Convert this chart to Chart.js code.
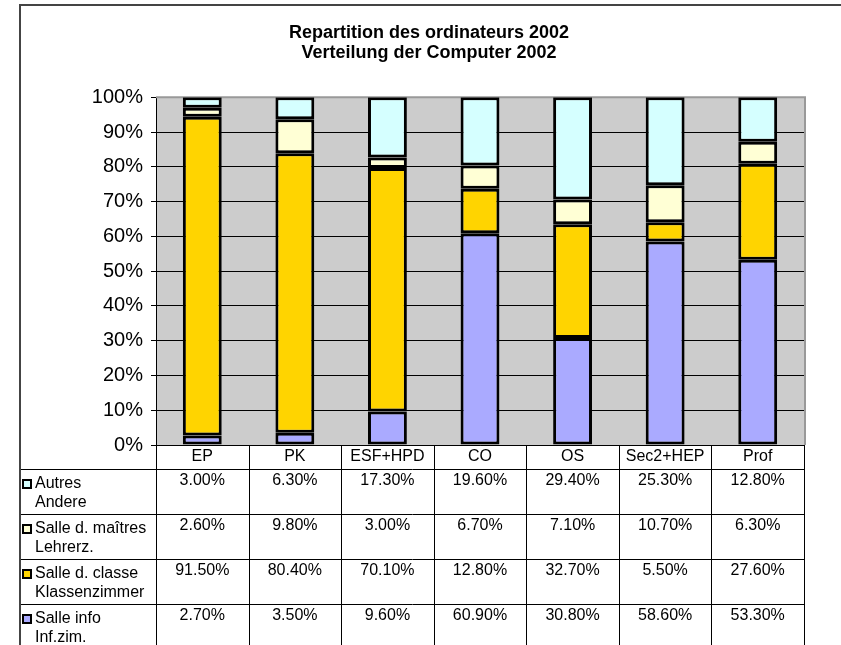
<!DOCTYPE html>
<html>
<head>
<meta charset="utf-8">
<script src="https://cdn.jsdelivr.net/npm/chart.js@4.4.0/dist/chart.umd.min.js"></script>
<style>
  html, body { margin: 0; padding: 0; background: #fff; }
  #wrap { width: 841px; height: 645px; position: relative; }
</style>
</head>
<body>
<div id="wrap"><canvas id="c" width="841" height="645"></canvas></div>
<script>
const categories = ['EP', 'PK', 'ESF+HPD', 'CO', 'OS', 'Sec2+HEP', 'Prof'];
const salleInfo = [2.7, 3.5, 9.6, 60.9, 30.8, 58.6, 53.3];
const salleClasse = [91.5, 80.4, 70.1, 12.8, 32.7, 5.5, 27.6];
const salleMaitres = [2.6, 9.8, 3.0, 6.7, 7.1, 10.7, 6.3];
const autres = [3.0, 6.3, 17.3, 19.6, 29.4, 25.3, 12.8];
const labelInfo = ['Salle info', 'Inf.zim.'];
const labelClasse = ['Salle d. classe', 'Klassenzimmer'];
const labelMaitres = ['Salle d. maîtres', 'Lehrerz.'];
const labelAutres = ['Autres', 'Andere'];
const titleLines = ['Repartition des ordinateurs 2002', 'Verteilung der Computer 2002'];
const yTicks = [0, 10, 20, 30, 40, 50, 60, 70, 80, 90, 100];

const FONT = '"Liberation Sans", Arial, Helvetica, sans-serif';
const seriesRaw = [salleInfo, salleClasse, salleMaitres, autres];
const totals = categories.map((_, i) => seriesRaw.reduce((s, a) => s + a[i], 0));
const pct = a => a.map((v, i) => v / totals[i] * 100);

const colors = ['#AAAAFF', '#FFD400', '#FFFFD5', '#D5FFFF'];
const seriesLabels = [labelInfo, labelClasse, labelMaitres, labelAutres];

const datasets = seriesRaw.map((arr, k) => ({
  label: seriesLabels[k].join(' '),
  data: pct(arr),
  raw: arr,
  backgroundColor: colors[k],
  borderColor: '#000',
  borderWidth: 3,
  borderSkipped: false,
  categoryPercentage: 1.0,
  barPercentage: 0.42
}));

const decor = {
  id: 'decor',
  beforeDraw(chart) {
    const {ctx, chartArea: a} = chart;
    ctx.save();
    ctx.fillStyle = '#CCCCCC';
    ctx.fillRect(a.left, a.top, a.right - a.left, a.bottom - a.top);
    ctx.restore();
  },
  beforeDatasetsDraw(chart) {
    const {ctx, chartArea: a} = chart;
    ctx.save();
    ctx.strokeStyle = '#999999';
    ctx.lineWidth = 2;
    ctx.beginPath();
    ctx.moveTo(a.left, a.top);
    ctx.lineTo(a.right + 1, a.top);
    ctx.lineTo(a.right + 1, a.bottom);
    ctx.stroke();
    ctx.restore();
  },
  afterDraw(chart) {
    const {ctx, chartArea: a} = chart;
    const xs = chart.scales.x;
    const n = categories.length;
    const cw = (a.right - a.left) / n;
    const H = chart.height;
    const frameX = 20;
    const headerBottom = a.bottom + 24;
    const rowH = 45;
    ctx.save();
    ctx.strokeStyle = '#000';
    ctx.lineWidth = 1;
    ctx.beginPath();
    ctx.moveTo(a.left, Math.round(a.bottom) + 0.5);
    ctx.lineTo(a.right + 1, Math.round(a.bottom) + 0.5);
    for (let r = 0; r < 4; r++) {
      const y = Math.round(headerBottom + r * rowH) + 0.5;
      ctx.moveTo(frameX, y);
      ctx.lineTo(a.right + 1, y);
    }
    for (let i = 0; i <= n; i++) {
      const x = Math.round(xs.getPixelForValue(i) - cw / 2) + 0.5;
      ctx.moveTo(x, a.bottom);
      ctx.lineTo(x, H);
    }
    ctx.stroke();
    ctx.fillStyle = '#000';
    ctx.font = '16px ' + FONT;
    ctx.textAlign = 'center';
    ctx.textBaseline = 'middle';
    categories.forEach((c, i) => {
      ctx.fillText(c, xs.getPixelForValue(i), a.bottom + 12);
    });
    const order = [3, 2, 1, 0];
    order.forEach((k, r) => {
      const top = headerBottom + r * rowH;
      const ds = chart.data.datasets[k];
      ctx.fillStyle = '#000';
      ctx.textAlign = 'center';
      ctx.textBaseline = 'middle';
      ds.raw.forEach((v, i) => {
        ctx.fillText(v.toFixed(2) + '%', xs.getPixelForValue(i), top + 12);
      });
      ctx.fillRect(22, top + 10, 10, 10);
      ctx.fillStyle = colors[k];
      ctx.fillRect(24, top + 12, 6, 6);
      ctx.fillStyle = '#000';
      ctx.textAlign = 'left';
      seriesLabels[k].forEach((t, li) => {
        ctx.fillText(t, 35, top + 15 + li * 18.5);
      });
    });
    ctx.strokeStyle = '#444444';
    ctx.lineWidth = 2;
    ctx.beginPath();
    ctx.moveTo(frameX, H);
    ctx.lineTo(frameX, 5);
    ctx.lineTo(chart.width, 5);
    ctx.stroke();
    ctx.restore();
  }
};

new Chart(document.getElementById('c'), {
  type: 'bar',
  data: { labels: categories, datasets },
  plugins: [decor],
  options: {
    responsive: false,
    animation: false,
    layout: { padding: { left: 54, right: 37, top: 0, bottom: 200 } },
    plugins: {
      legend: { display: false },
      tooltip: { enabled: false },
      title: {
        display: true,
        text: titleLines,
        color: '#000',
        font: { family: FONT, size: 18, weight: 'bold', lineHeight: 1.12 },
        padding: { top: 23, bottom: 34 }
      }
    },
    scales: {
      x: {
        stacked: true,
        display: false,
        offset: true
      },
      y: {
        stacked: true,
        min: 0,
        max: 100,
        afterBuildTicks(scale) {
          scale.ticks = yTicks.map(v => ({ value: v }));
        },
        afterFit(scale) { scale.width = 102; },
        ticks: {
          color: '#000',
          font: { family: FONT, size: 20 },
          padding: 8,
          callback: v => v + '%'
        },
        grid: {
          color: '#000',
          lineWidth: 1,
          drawTicks: true,
          tickLength: 5,
          tickColor: '#000'
        },
        border: { display: true, color: '#000', width: 1 }
      }
    }
  }
});
</script>
</body>
</html>
